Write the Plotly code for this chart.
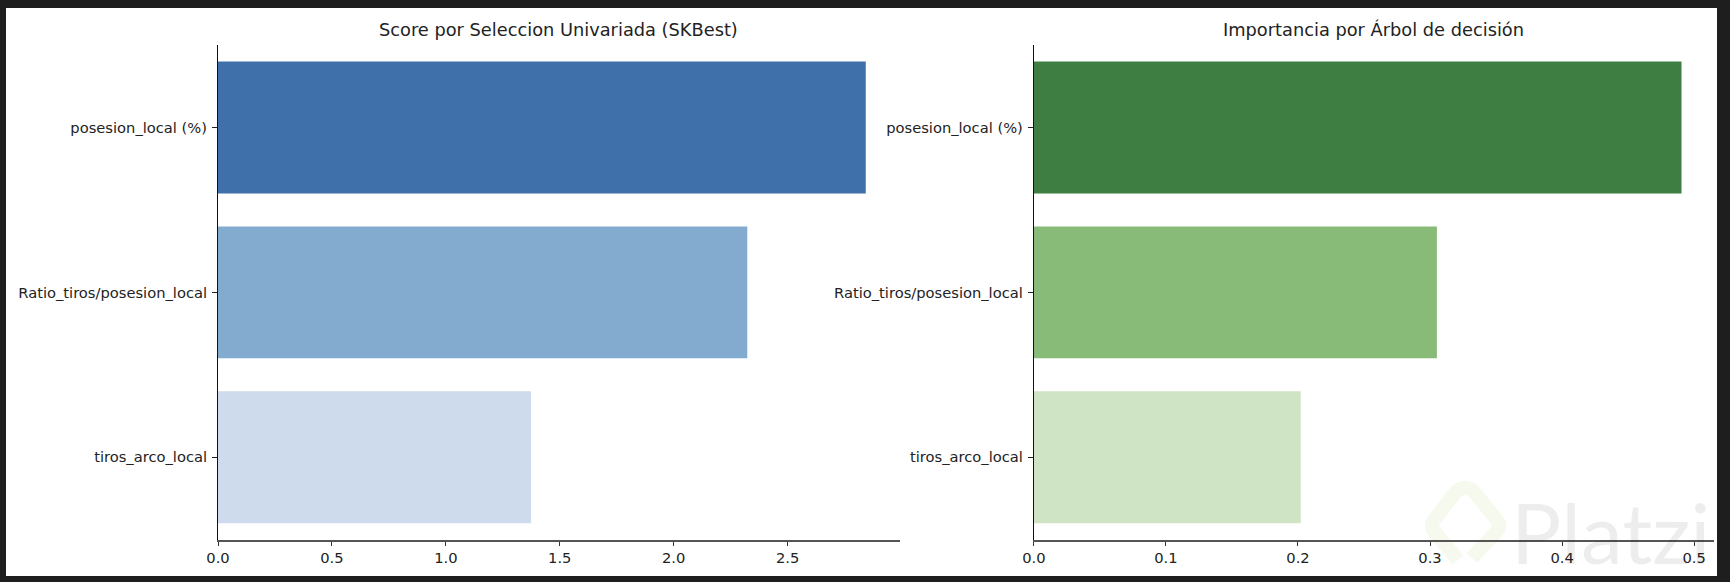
import plotly.graph_objects as go

W, H = 1730, 582
features = ["posesion_local (%)", "Ratio_tiros/posesion_local", "tiros_arco_local"]
skbest_scores = [2.843, 2.323, 1.374]
tree_importance = [0.4904, 0.3052, 0.2021]
blue_colors = ["#4070A9", "#83ABD0", "#CEDBEC"]
green_colors = ["#3E7E42", "#88BA78", "#CFE4C4"]
left_ticks = [0.0, 0.5, 1.0, 1.5, 2.0, 2.5]
right_ticks = [0.0, 0.1, 0.2, 0.3, 0.4, 0.5]
titles = ["Score por Seleccion Univariada (SKBest)", "Importancia por Árbol de decisión"]

def px(x): return x / W
def py(y): return 1 - y / H

FONT = "DejaVu Sans"
TICK = dict(family=FONT, size=14.7, color="#222222")

fig = go.Figure()
fig.add_trace(go.Bar(y=features, x=skbest_scores, orientation="h", width=0.8,
                     marker=dict(color=blue_colors, line=dict(width=0)), xaxis="x", yaxis="y"))
fig.add_trace(go.Bar(y=features, x=tree_importance, orientation="h", width=0.8,
                     marker=dict(color=green_colors, line=dict(width=0)), xaxis="x2", yaxis="y2"))

def xax(dom, rng, ticks, anchor, fmt):
    return dict(domain=dom, range=rng, tickvals=ticks, tickformat=fmt, anchor=anchor, automargin=False,
                showgrid=False, zeroline=False, showline=True, linecolor="#555555", linewidth=1.5,
                ticks="outside", ticklen=4, tickwidth=1, tickcolor="#333333", tickfont=TICK)

def yax(anchor):
    return dict(domain=[py(539.8), py(45)], range=[2.5, -0.5], type="category",
                categoryorder="array", categoryarray=features, anchor=anchor, automargin=False,
                showgrid=False, zeroline=False, showline=True, linecolor="#111111", linewidth=1,
                ticks="outside", ticklen=5, tickwidth=1, tickcolor="#222222", tickfont=TICK,
                ticklabelstandoff=2)

logo = "M 1465 488 Q 1471 488 1475 493 L 1497 520 Q 1501 526 1497 531 L 1472 558 M 1458 560 L 1434 531 Q 1430 526 1434 520 L 1455 493 Q 1459 488 1465 488"
def path_to_paper(p):
    out, isx = [], True
    for t in p.split():
        if t.isalpha():
            out.append(t); isx = True
        else:
            v = float(t)
            out.append(f"{px(v):.5f}" if isx else f"{py(v):.5f}")
            isx = not isx
    return " ".join(out)

fig.update_layout(
    width=W, height=H, margin=dict(l=0, r=0, t=0, b=0),
    paper_bgcolor="#1E1E1E", plot_bgcolor="rgba(0,0,0,0)", showlegend=False,
    font=dict(family=FONT, color="#222222"),
    xaxis=xax([px(218), px(899.5)], [0, 2.991], left_ticks, "y", ".1f"),
    yaxis=yax("x"),
    xaxis2=xax([px(1033.8), px(1714)], [0, 0.515], right_ticks, "y2", ".1f"),
    yaxis2=yax("x2"),
    shapes=[
        dict(type="rect", xref="paper", yref="paper", x0=px(6), x1=px(1717), y0=py(576), y1=py(8),
             fillcolor="white", line=dict(width=0), layer="below"),
        dict(type="path", xref="paper", yref="paper", path=path_to_paper(logo),
             line=dict(color="#F6F9EE", width=14), fillcolor="rgba(0,0,0,0)", layer="below"),
    ],
    annotations=[
        dict(text=titles[0], xref="x domain", yref="paper", x=0.5, y=py(29), showarrow=False,
             xanchor="center", yanchor="middle", font=dict(family=FONT, size=17.8, color="#222222")),
        dict(text=titles[1], xref="x2 domain", yref="paper", x=0.5, y=py(29), showarrow=False,
             xanchor="center", yanchor="middle", font=dict(family=FONT, size=17.8, color="#222222")),
        dict(text="Platzi", xref="paper", yref="paper", x=px(1610), y=py(531), showarrow=False,
             xanchor="center", yanchor="middle", font=dict(family="Lato", size=84, color="rgba(0,0,0,0.07)")),
    ],
)

post = "document.body.style.margin='0';document.body.style.background='#1E1E1E';"
fig.write_html("out.html", post_script=post, config={"displayModeBar": False})
